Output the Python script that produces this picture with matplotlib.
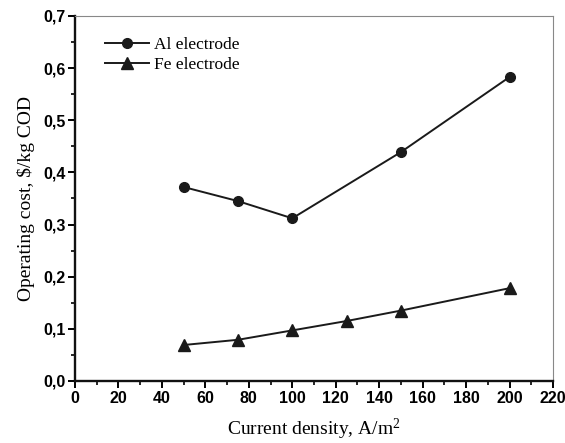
import matplotlib
matplotlib.use("Agg")
import matplotlib.pyplot as plt
from matplotlib.ticker import MultipleLocator, FuncFormatter

plt.rcParams["mathtext.fontset"] = "custom"
plt.rcParams["mathtext.rm"] = "Liberation Serif"
plt.rcParams["mathtext.it"] = "Liberation Serif:italic"

# Operating cost vs current density
al_density = [50, 75, 100, 150, 200]
al_cost = [0.372, 0.345, 0.312, 0.439, 0.583]
fe_density = [50, 75, 100, 125, 150, 200]
fe_cost = [0.069, 0.079, 0.097, 0.115, 0.135, 0.178]

x_ticks = [0, 20, 40, 60, 80, 100, 120, 140, 160, 180, 200, 220]
y_ticks = [0.0, 0.1, 0.2, 0.3, 0.4, 0.5, 0.6, 0.7]

fig = plt.figure(figsize=(5.65, 4.43), dpi=100)
ax = fig.add_axes([0.1327, 0.14, 0.8461, 0.8239])

ax.plot(al_density, al_cost, color="#1a1a1a", lw=1.4, marker="o", ms=7,
        label="Al electrode")
ax.plot(fe_density, fe_cost, color="#1a1a1a", lw=1.4, marker="^", ms=8,
        label="Fe electrode")

ax.set_xlim(0, 220)
ax.set_ylim(0, 0.7)
ax.set_xticks(x_ticks)
ax.set_yticks(y_ticks)
ax.xaxis.set_minor_locator(MultipleLocator(10))
ax.yaxis.set_minor_locator(MultipleLocator(0.05))
ax.yaxis.set_major_formatter(FuncFormatter(lambda v, p: f"{v:.1f}".replace(".", ",")))

for lbl in ax.get_xticklabels() + ax.get_yticklabels():
    lbl.set_fontfamily("Liberation Sans")
    lbl.set_fontsize(11.5)
    lbl.set_fontweight("semibold")

ax.tick_params(which="major", direction="out", length=5, width=1.4, pad=2)
ax.tick_params(which="minor", direction="out", length=3, width=1.2)
ax.tick_params(top=False, right=False)

for side in ("left", "bottom"):
    ax.spines[side].set_linewidth(1.7)
    ax.spines[side].set_color("#111111")
for side in ("top", "right"):
    ax.spines[side].set_linewidth(0.8)
    ax.spines[side].set_color("#888888")

ax.set_xlabel("Current density, A/m$^{2}$", family="Liberation Serif", fontsize=14, labelpad=8)
ax.set_ylabel("Operating cost, \\$/kg COD", family="Liberation Serif", fontsize=14, labelpad=6)

ax.legend(loc="upper left", frameon=False, prop={"family": "Liberation Serif", "size": 12.5},
          handlelength=2.5, handletextpad=0.3, borderaxespad=0.8, labelspacing=0.25,
          bbox_to_anchor=(0.02, 1.0))

fig.savefig("out.png", dpi=100)
